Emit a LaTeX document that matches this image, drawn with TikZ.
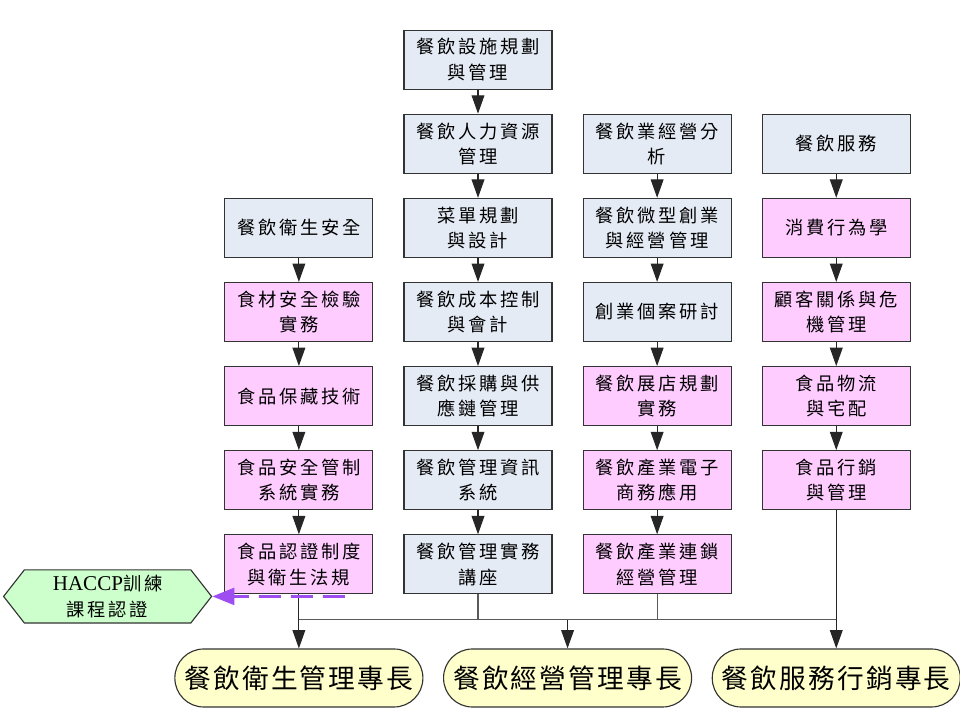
\documentclass[tikz,border=0pt]{standalone}
\usepackage{fontspec}
\setmainfont{Liberation Serif}
\newfontfamily\cjk[LetterSpace=15]{Noto Sans CJK TC}
\newfontfamily\cjkbig[LetterSpace=8]{Noto Sans CJK TC}
\usetikzlibrary{arrows.meta, positioning, calc, shapes.symbols}
\definecolor{boxblue}{HTML}{E5EBF5}
\definecolor{boxpink}{HTML}{FFCCFF}
\definecolor{specyellow}{HTML}{FFFFCC}
\definecolor{haccpgreen}{HTML}{CCFFCC}
\definecolor{dashpurple}{HTML}{9D4DF0}
\definecolor{linegray}{HTML}{5A5A5A}

\begin{document}
\begin{tikzpicture}[
    node distance=0.6cm and 0.75cm,
    every node/.style={font=\cjk\fontsize{13}{18}\selectfont},
    course/.style={draw=black!80, line width=0.8pt, minimum width=3.7cm, minimum height=1.475cm, align=center, inner sep=2pt},
    basic/.style={course, fill=boxblue},
    adv/.style={course, fill=boxpink},
    spec/.style={draw=black!80, line width=0.8pt, fill=specyellow, rounded corners=0.72cm, minimum width=6.2cm, minimum height=1.45cm, font=\cjkbig\fontsize{19}{22}\selectfont},
    hexbox/.style={signal, signal to=west and east, signal pointer angle=104, draw=black!80, line width=0.8pt, fill=haccpgreen, minimum width=5.2cm, minimum height=1.33cm, align=center, inner sep=1pt},
    arrow/.style={-{Triangle[length=4.6mm, width=3.2mm]}, line width=0.8pt, draw=black!85},
    busline/.style={line width=0.8pt, draw=linegray},
    dasharrow/.style={-{Triangle[length=5.5mm, width=4.2mm]}, line width=2pt, draw=dashpurple, dash pattern=on 5.5mm off 2.5mm}
]
    \useasboundingbox (0,0) rectangle (24,-18);

    % management column
    \node[basic] (facility) at (11.95,-1.49) {餐飲設施規劃\\與管理};
    \node[basic, below=of facility] (hr) {餐飲人力資源\\管理};
    \node[basic, below=of hr] (menu) {菜單規劃\\與設計};
    \node[basic, below=of menu] (cost) {餐飲成本控制\\與會計};
    \node[basic, below=of cost] (purchase) {餐飲採購與供\\應鏈管理};
    \node[basic, below=of purchase] (mis) {餐飲管理資訊\\系統};
    \node[basic, below=of mis] (lecture) {餐飲管理實務\\講座};

    % business column
    \node[basic, right=of hr] (analysis) {餐飲業經營分\\析};
    \node[basic, below=of analysis] (startup) {餐飲微型創業\\與經營管理};
    \node[basic, below=of startup] (casestudy) {創業個案研討};
    \node[adv, below=of casestudy] (expand) {餐飲展店規劃\\實務};
    \node[adv, below=of expand] (ecom) {餐飲產業電子\\商務應用};
    \node[adv, below=of ecom] (chain) {餐飲產業連鎖\\經營管理};

    % service column
    \node[basic, right=of analysis] (service) {餐飲服務};
    \node[adv, below=of service] (consumer) {消費行為學};
    \node[adv, below=of consumer] (crm) {顧客關係與危\\機管理};
    \node[adv, below=of crm] (logistics) {食品物流\\與宅配};
    \node[adv, below=of logistics] (marketing) {食品行銷\\與管理};

    % hygiene column
    \node[basic, left=of menu] (hygiene) {餐飲衛生安全};
    \node[adv, below=of hygiene] (inspect) {食材安全檢驗\\實務};
    \node[adv, below=of inspect] (preserve) {食品保藏技術};
    \node[adv, below=of preserve] (control) {食品安全管制\\系統實務};
    \node[adv, below=of control] (law) {食品認證制度\\與衛生法規};

    % specialties
    \node[spec, below=1.35cm of law] (hygspec) {餐飲衛生管理專長};
    \node[spec] (srvspec) at (marketing |- hygspec) {餐飲服務行銷專長};
    \node[spec] (mgmtspec) at ($(hygspec)!0.5!(srvspec)$) {餐飲經營管理專長};

    \node[hexbox] (haccp) at (2.69,-14.91) {{\rmfamily\fontsize{15}{18}\selectfont HACCP}訓練\\課程認證};

    \foreach \a/\b in {facility/hr, hr/menu, menu/cost, cost/purchase, purchase/mis, mis/lecture,
        analysis/startup, startup/casestudy, casestudy/expand, expand/ecom, ecom/chain,
        service/consumer, consumer/crm, crm/logistics, logistics/marketing,
        hygiene/inspect, inspect/preserve, preserve/control, control/law}
        \draw[arrow] (\a) -- (\b);

    \coordinate (bus) at ($(law.south)!0.47!(hygspec.north)$);
    \draw[arrow] (law) -- (hygspec);
    \draw[busline] (bus) -- (bus -| marketing.south);
    \draw[busline] (lecture) -- (lecture |- bus);
    \draw[busline] (chain) -- (chain |- bus);
    \draw[arrow] (marketing) -- (srvspec);
    \draw[arrow] (bus -| mgmtspec) -- (mgmtspec);

    \coordinate (dashstart) at ($(haccp -| law.south)+(1.15,0)$);
    \draw[dasharrow] (dashstart) -- (haccp);
\end{tikzpicture}
\end{document}
